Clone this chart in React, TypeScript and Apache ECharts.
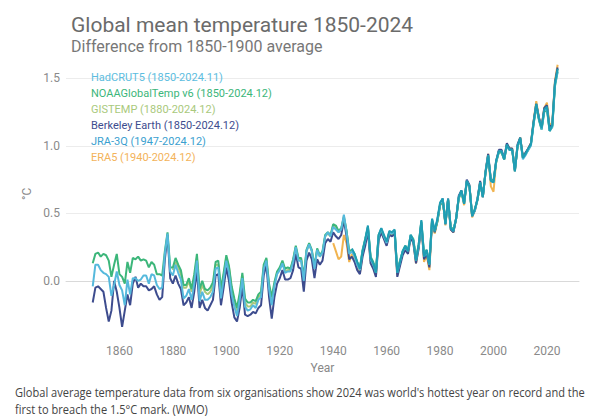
import React, { useEffect, useRef } from "react";
import * as echarts from "echarts";

const titleText = "Global mean temperature 1850-2024";
const subtitleText = "Difference from 1850-1900 average";
const captionLines = [
  "Global average temperature data from six organisations show 2024 was world's hottest year on record and the",
  "first to breach the 1.5°C mark. (WMO)",
];
const yTickValues = [0, 0.5, 1.0, 1.5];
const xTickYears = [1860, 1880, 1900, 1920, 1940, 1960, 1980, 2000, 2020];

const seriesNames = [
  "HadCRUT5 (1850-2024.11)",
  "NOAAGlobalTemp v6 (1850-2024.12)",
  "GISTEMP (1880-2024.12)",
  "Berkeley Earth (1850-2024.12)",
  "JRA-3Q (1947-2024.12)",
  "ERA5 (1940-2024.12)",
];
const startYears = [1850, 1850, 1880, 1850, 1947, 1940];
const lineColors = ["#55b9dc", "#3cb67a", "#a9c97c", "#3d4c8e", "#1f9db3", "#f1b450"];
const legendColors = ["#5cbde0", "#3cb67a", "#a9c97c", "#3d4c8e", "#3a9fcf", "#f3b35a"];

const hadcrut5 = [
  -0.04, 0.12, 0.12, 0.08, 0.06, 0.05, 0.03, -0.11, -0.03, 0.07,
  -0.03, -0.07, -0.18, 0.01, -0.10, 0.02, 0.02, 0.00, 0.01, 0.04,
  0.04, -0.02, 0.05, 0.04, -0.03, -0.06, -0.05, 0.20, 0.35, 0.07,
  0.04, 0.12, 0.06, 0.01, -0.13, -0.11, -0.06, -0.14, -0.02, 0.15,
  -0.15, -0.08, -0.14, -0.14, -0.12, -0.08, 0.09, 0.10, -0.13, 0.01,
  0.15, 0.06, -0.10, -0.19, -0.26, -0.14, 0.02, -0.19, -0.22, -0.21,
  -0.18, -0.20, -0.14, -0.12, 0.09, 0.15, -0.06, -0.18, -0.04, 0.05,
  0.08, 0.13, 0.06, 0.07, 0.07, 0.14, 0.25, 0.15, 0.15, 0.00,
  0.22, 0.27, 0.22, 0.09, 0.23, 0.18, 0.21, 0.33, 0.36, 0.33,
  0.40, 0.38, 0.36, 0.38, 0.49, 0.36, 0.20, 0.22, 0.18, 0.12,
  0.08, 0.22, 0.30, 0.40, 0.16, 0.12, 0.06, 0.33, 0.39, 0.33,
  0.28, 0.36, 0.35, 0.37, 0.06, 0.14, 0.22, 0.25, 0.22, 0.34,
  0.30, 0.15, 0.26, 0.44, 0.18, 0.22, 0.12, 0.46, 0.37, 0.45,
  0.57, 0.61, 0.42, 0.60, 0.39, 0.37, 0.46, 0.62, 0.66, 0.57,
  0.74, 0.70, 0.48, 0.52, 0.60, 0.73, 0.62, 0.80, 0.93, 0.74,
  0.73, 0.88, 0.96, 0.96, 0.90, 1.00, 0.97, 0.97, 0.81, 1.00,
  1.05, 0.90, 0.93, 0.97, 1.00, 1.16, 1.30, 1.20, 1.12, 1.26,
  1.28, 1.11, 1.14, 1.45, 1.55,
];

const noaaGlobalTemp = [
  0.13, 0.20, 0.21, 0.18, 0.20, 0.19, 0.15, 0.03, 0.12, 0.20,
  0.05, 0.03, -0.02, 0.14, 0.06, 0.17, 0.16, 0.18, 0.15, 0.16,
  0.15, 0.10, 0.14, 0.12, 0.05, 0.05, 0.04, 0.22, 0.36, 0.10,
  0.10, 0.17, 0.12, 0.08, -0.03, -0.03, 0.02, -0.06, 0.05, 0.20,
  -0.06, 0.00, -0.06, -0.07, -0.05, -0.01, 0.14, 0.15, -0.06, 0.06,
  0.19, 0.11, -0.04, -0.13, -0.20, -0.09, 0.06, -0.13, -0.16, -0.16,
  -0.14, -0.15, -0.10, -0.08, 0.12, 0.17, -0.02, -0.12, -0.01, 0.07,
  0.10, 0.15, 0.09, 0.10, 0.09, 0.16, 0.26, 0.17, 0.17, 0.03,
  0.23, 0.28, 0.23, 0.11, 0.24, 0.19, 0.22, 0.34, 0.36, 0.34,
  0.42, 0.41, 0.37, 0.39, 0.47, 0.37, 0.22, 0.23, 0.20, 0.14,
  0.10, 0.23, 0.31, 0.40, 0.18, 0.14, 0.08, 0.34, 0.38, 0.33,
  0.29, 0.36, 0.35, 0.37, 0.08, 0.15, 0.22, 0.26, 0.23, 0.34,
  0.31, 0.17, 0.27, 0.44, 0.20, 0.23, 0.13, 0.45, 0.37, 0.44,
  0.56, 0.60, 0.43, 0.60, 0.40, 0.38, 0.46, 0.61, 0.66, 0.58,
  0.73, 0.70, 0.49, 0.53, 0.60, 0.72, 0.63, 0.80, 0.92, 0.75,
  0.74, 0.88, 0.95, 0.95, 0.90, 1.00, 0.97, 0.97, 0.82, 0.99,
  1.05, 0.91, 0.94, 0.97, 1.01, 1.16, 1.29, 1.19, 1.12, 1.25,
  1.27, 1.11, 1.14, 1.44, 1.55,
];

const gistemp = [
  0.08, 0.14, 0.10, 0.05, -0.05, -0.05, 0.00, -0.08, 0.02, 0.17,
  -0.10, -0.03, -0.08, -0.10, -0.08, -0.04, 0.12, 0.12, -0.08, 0.04,
  0.17, 0.10, -0.06, -0.15, -0.22, -0.12, 0.04, -0.16, -0.19, -0.19,
  -0.16, -0.17, -0.12, -0.10, 0.10, 0.16, -0.04, -0.15, -0.03, 0.06,
  0.09, 0.14, 0.07, 0.08, 0.08, 0.15, 0.25, 0.16, 0.16, 0.01,
  0.22, 0.27, 0.22, 0.10, 0.23, 0.18, 0.21, 0.33, 0.35, 0.33,
  0.41, 0.40, 0.36, 0.38, 0.48, 0.37, 0.21, 0.22, 0.19, 0.13,
  0.09, 0.22, 0.30, 0.39, 0.17, 0.13, 0.07, 0.33, 0.38, 0.32,
  0.28, 0.35, 0.35, 0.36, 0.07, 0.14, 0.21, 0.25, 0.22, 0.33,
  0.30, 0.16, 0.26, 0.43, 0.19, 0.22, 0.12, 0.45, 0.36, 0.44,
  0.57, 0.60, 0.43, 0.60, 0.39, 0.37, 0.46, 0.61, 0.66, 0.57,
  0.74, 0.70, 0.48, 0.52, 0.60, 0.73, 0.62, 0.80, 0.93, 0.74,
  0.73, 0.88, 0.96, 0.96, 0.90, 1.01, 0.97, 0.97, 0.82, 1.00,
  1.06, 0.91, 0.94, 0.97, 1.01, 1.17, 1.31, 1.20, 1.13, 1.27,
  1.29, 1.12, 1.15, 1.46, 1.57,
];

const berkeleyEarth = [
  -0.16, -0.05, -0.04, -0.06, -0.08, -0.20, -0.30, -0.22, 0.00, -0.08,
  -0.20, -0.34, -0.22, -0.10, -0.18, -0.02, 0.03, -0.05, -0.02, -0.04,
  -0.04, -0.07, -0.06, -0.04, -0.10, -0.14, -0.12, 0.16, 0.34, 0.02,
  -0.02, 0.04, -0.02, -0.06, -0.18, -0.16, -0.12, -0.20, -0.08, 0.08,
  -0.20, -0.14, -0.20, -0.22, -0.18, -0.14, 0.04, 0.05, -0.18, -0.05,
  0.10, 0.00, -0.16, -0.27, -0.30, -0.20, -0.04, -0.25, -0.26, -0.25,
  -0.23, -0.24, -0.20, -0.18, 0.04, 0.12, -0.12, -0.28, -0.12, -0.02,
  0.02, 0.08, 0.01, 0.01, 0.02, 0.08, 0.20, 0.10, 0.09, -0.08,
  0.15, 0.21, 0.16, 0.02, 0.16, 0.12, 0.15, 0.28, 0.31, 0.29,
  0.36, 0.33, 0.31, 0.34, 0.45, 0.33, 0.16, 0.18, 0.14, 0.08,
  0.05, 0.18, 0.26, 0.37, 0.13, 0.09, 0.03, 0.30, 0.36, 0.31,
  0.26, 0.34, 0.33, 0.35, 0.03, 0.11, 0.19, 0.23, 0.20, 0.32,
  0.28, 0.13, 0.24, 0.42, 0.16, 0.20, 0.10, 0.44, 0.36, 0.45,
  0.56, 0.61, 0.42, 0.61, 0.38, 0.36, 0.46, 0.63, 0.67, 0.58,
  0.75, 0.71, 0.48, 0.52, 0.61, 0.74, 0.62, 0.81, 0.94, 0.75,
  0.74, 0.89, 0.97, 0.97, 0.91, 1.02, 0.98, 0.98, 0.82, 1.01,
  1.06, 0.92, 0.95, 0.98, 1.02, 1.18, 1.31, 1.21, 1.14, 1.28,
  1.30, 1.13, 1.16, 1.47, 1.58,
];

const jra3q = [
  0.24, 0.20, 0.14,
  0.09, 0.22, 0.31, 0.41, 0.17, 0.13, 0.06, 0.34, 0.39, 0.34,
  0.29, 0.37, 0.36, 0.38, 0.06, 0.14, 0.22, 0.26, 0.22, 0.34,
  0.30, 0.15, 0.27, 0.45, 0.18, 0.23, 0.12, 0.46, 0.37, 0.46,
  0.58, 0.61, 0.42, 0.61, 0.39, 0.37, 0.46, 0.62, 0.67, 0.57,
  0.74, 0.70, 0.48, 0.53, 0.60, 0.73, 0.62, 0.80, 0.93, 0.74,
  0.73, 0.89, 0.96, 0.96, 0.90, 1.01, 0.97, 0.97, 0.81, 1.00,
  1.06, 0.91, 0.94, 0.98, 1.01, 1.17, 1.31, 1.20, 1.13, 1.27,
  1.29, 1.11, 1.15, 1.46, 1.57,
];

const era5 = [
  0.28, 0.22, 0.16, 0.18, 0.34, 0.28, 0.14, 0.20, 0.16, 0.10,
  0.06, 0.20, 0.29, 0.39, 0.15, 0.10, 0.04, 0.32, 0.37, 0.32,
  0.27, 0.35, 0.34, 0.36, 0.04, 0.13, 0.21, 0.24, 0.21, 0.33,
  0.29, 0.13, 0.25, 0.43, 0.14, 0.19, 0.08, 0.44, 0.35, 0.44,
  0.56, 0.60, 0.41, 0.60, 0.38, 0.36, 0.46, 0.62, 0.66, 0.56,
  0.74, 0.70, 0.47, 0.52, 0.60, 0.73, 0.62, 0.80, 0.94, 0.70,
  0.66, 0.88, 0.96, 0.96, 0.90, 1.01, 0.98, 0.98, 0.81, 1.00,
  1.06, 0.91, 0.94, 0.98, 1.02, 1.18, 1.33, 1.21, 1.13, 1.28,
  1.32, 1.15, 1.17, 1.48, 1.60,
];

const allValues = [hadcrut5, noaaGlobalTemp, gistemp, berkeleyEarth, jra3q, era5];
// drawing order (bottom to top)
const drawOrder = [5, 2, 3, 1, 0, 4];

export default function App() {
  const ref = useRef<HTMLDivElement>(null);
  useEffect(() => {
    if (!ref.current) return;
    const chart = echarts.init(ref.current, undefined, { renderer: "svg" });
    const isTick = (v: number, list: number[]) => list.some((t) => Math.abs(t - v) < 1e-6);
    const series = drawOrder.map((idx) => ({
      name: seriesNames[idx],
      type: "line",
      showSymbol: false,
      symbol: "none",
      data: allValues[idx].map((v, i) => [startYears[idx] + i, v]),
      lineStyle: { color: lineColors[idx], width: 2 },
      itemStyle: { color: lineColors[idx] },
      silent: true,
    }));
    chart.setOption({
      animation: false,
      backgroundColor: "#ffffff",
      textStyle: { fontFamily: "Roboto" },
      title: {
        text: titleText,
        subtext: subtitleText,
        left: 66,
        top: 9,
        itemGap: 3,
        textStyle: { fontSize: 21, fontWeight: "normal", color: "#6b6b6b", fontFamily: "Roboto" },
        subtextStyle: { fontSize: 16, color: "#777777", fontFamily: "Roboto" },
      },
      legend: {
        orient: "vertical",
        left: 86,
        top: 67,
        icon: "none",
        itemWidth: 0,
        itemHeight: 11,
        itemGap: 5,
        padding: [5, 5, 5, 0],
        selectedMode: false,
        textStyle: { fontSize: 11, fontFamily: "Roboto" },
        data: seriesNames.map((n, i) => ({ name: n, textStyle: { color: legendColors[i] } })),
      },
      grid: { left: 66, right: 21, top: 58, bottom: 81 },
      xAxis: {
        type: "value",
        min: 1840,
        max: 2032,
        interval: 20,
        name: "Year",
        nameLocation: "middle",
        nameGap: 21,
        nameTextStyle: { color: "#888888", fontSize: 12 },
        axisLine: { show: true, lineStyle: { color: "#d9d9d9" } },
        axisTick: { show: false },
        splitLine: { show: false },
        axisLabel: {
          color: "#8a8a8a",
          fontSize: 12,
          margin: 6,
          showMinLabel: false,
          showMaxLabel: false,
          formatter: (v: number) => (isTick(v, xTickYears) ? String(v) : ""),
        },
      },
      yAxis: {
        type: "value",
        min: -0.43,
        max: 1.65,
        splitNumber: 5,
        axisLine: { show: false },
        axisTick: { show: false },
        splitLine: {
          show: true,
          showMinLine: false,
          showMaxLine: false,
          lineStyle: { color: "#ececec", width: 1 },
        },
        axisLabel: {
          color: "#8a8a8a",
          fontSize: 12,
          margin: 6,
          showMinLabel: false,
          showMaxLabel: false,
          formatter: (v: number) => (isTick(v, yTickValues) ? v.toFixed(1) : ""),
        },
      },
      graphic: [
        {
          type: "text",
          x: 21,
          y: 200,
          rotation: Math.PI / 2,
          style: { text: "°C", fill: "#888888", fontSize: 12, fontFamily: "Roboto" },
        },
        {
          type: "text",
          x: 15,
          y: 383,
          scaleX: 0.885,
          style: {
            text: captionLines.join("\n"),
            fill: "#444444",
            fontSize: 12.5,
            lineHeight: 17,
            fontFamily: "Open Sans",
          },
        },
      ],
      series,
    });
    return () => chart.dispose();
  }, []);
  return (
    <div
      ref={ref}
      style={{ position: "fixed", left: 0, top: 0, width: 600, height: 420, background: "#fff" }}
    />
  );
}
